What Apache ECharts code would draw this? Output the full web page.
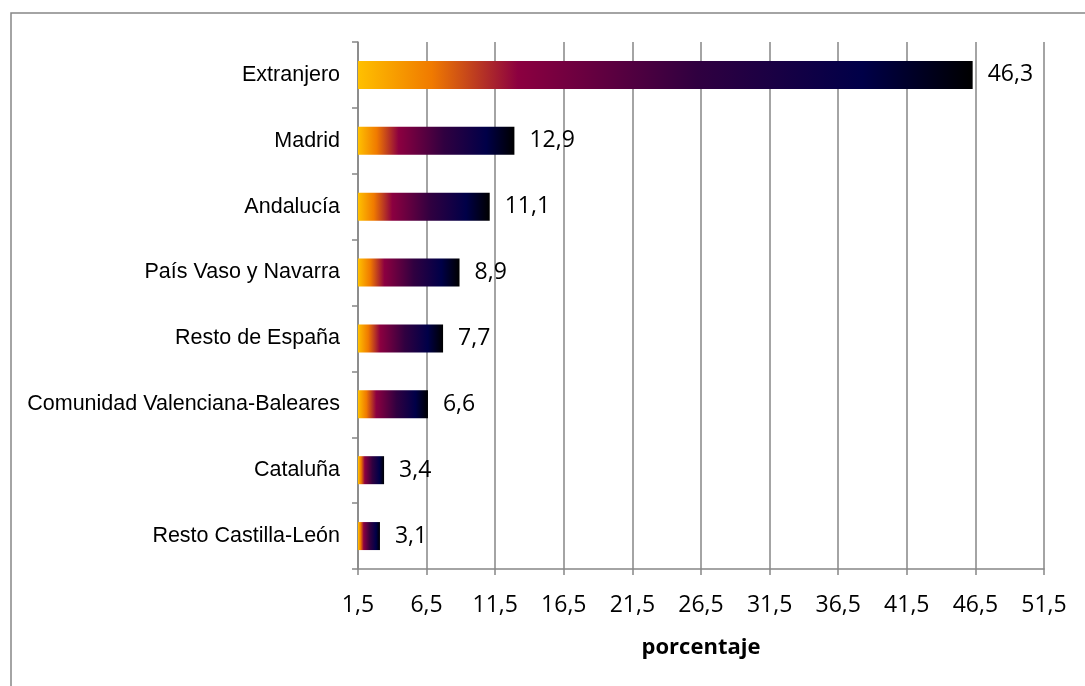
<!DOCTYPE html>
<html><head><meta charset="utf-8">
<script src="https://cdn.jsdelivr.net/npm/echarts@6/dist/echarts.min.js"></script>
<style>html,body{margin:0;padding:0;background:#fff}#c{width:1085px;height:686px}</style>
</head><body><div id="c"></div>
<script>
const categories = ['Extranjero','Madrid','Andalucía','País Vaso y Navarra','Resto de España','Comunidad Valenciana-Baleares','Cataluña','Resto Castilla-León'];
const values = [46.3, 12.9, 11.1, 8.9, 7.7, 6.6, 3.4, 3.1];
const axisMin = 1.5, axisMax = 51.5, axisStep = 5;
const axisTitle = 'porcentaje';

const fmt = v => Number(v).toFixed(1).replace('.', ',');
const grad = new echarts.graphic.LinearGradient(0, 0, 1, 0, [
  {offset: 0, color: '#FFC000'},
  {offset: 0.12, color: '#F07A00'},
  {offset: 0.26, color: '#8C0040'},
  {offset: 0.55, color: '#300040'},
  {offset: 0.82, color: '#000048'},
  {offset: 1, color: '#000000'}
]);
const chart = echarts.init(document.getElementById('c'), null, {renderer: 'canvas'});
chart.setOption({
  animation: false,
  backgroundColor: '#fff',
  graphic: [{type: 'rect', shape: {x: 11, y: 13, width: 2000, height: 2000}, style: {fill: 'none', stroke: '#868686', lineWidth: 1.5}, silent: true}],
  grid: {left: 358, right: 41, top: 42, bottom: 117, containLabel: false},
  xAxis: {
    type: 'value', min: axisMin, max: axisMax, interval: axisStep,
    name: axisTitle, nameLocation: 'middle', nameGap: 68,
    nameTextStyle: {fontFamily: 'Open Sans', fontWeight: 'bold', fontSize: 22, color: '#000'},
    axisLine: {show: true, lineStyle: {color: '#868686', width: 1.5}},
    axisTick: {show: true, length: 6, lineStyle: {color: '#868686', width: 1.5}},
    splitLine: {show: true, lineStyle: {color: '#868686', width: 1.5}},
    axisLabel: {formatter: fmt, fontFamily: 'Open Sans', fontSize: 23, color: '#000', margin: 25}
  },
  yAxis: {
    type: 'category', data: categories, inverse: true,
    axisLine: {show: true, lineStyle: {color: '#868686', width: 1.5}},
    axisTick: {show: true, length: 6, lineStyle: {color: '#868686', width: 1.5}},
    splitLine: {show: false},
    axisLabel: {fontFamily: 'Liberation Sans', fontSize: 21.5, color: '#000', margin: 18}
  },
  series: [{
    type: 'bar', data: values, barWidth: 28,
    itemStyle: {color: grad},
    label: {show: true, position: 'right', distance: 15, formatter: p => fmt(p.value), fontFamily: 'Open Sans', fontSize: 23, color: '#000'}
  }]
});
</script></body></html>
